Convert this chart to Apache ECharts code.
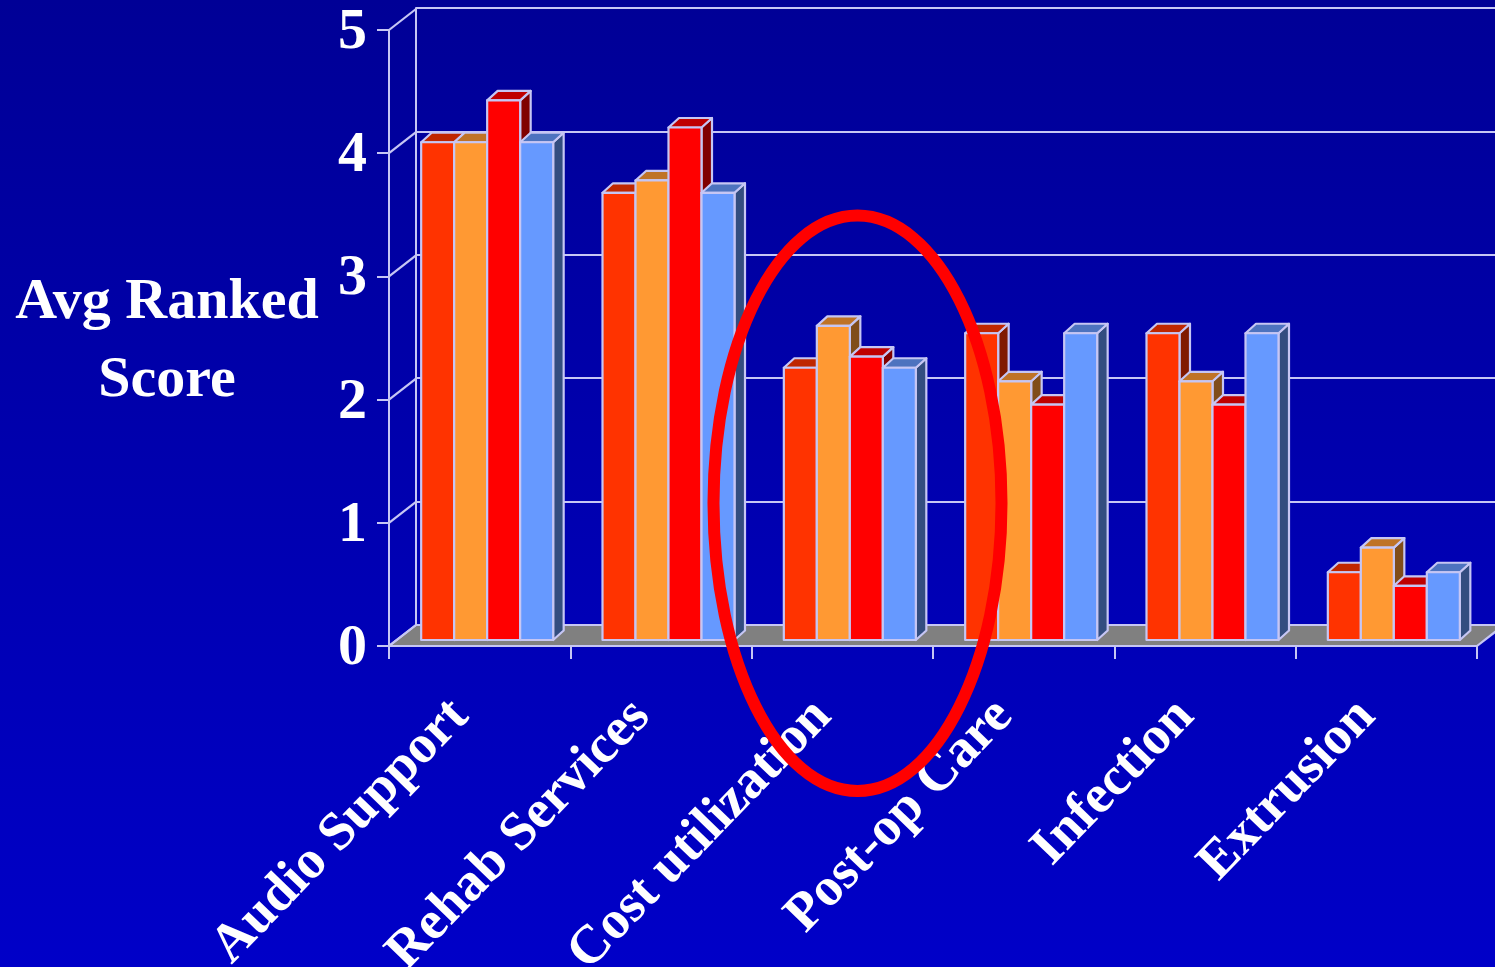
<!DOCTYPE html>
<html>
<head>
<meta charset="utf-8">
<style>html,body{margin:0;padding:0;background:#0000b0}#chart{width:1495px;height:967px}</style>
<script src="https://cdn.jsdelivr.net/npm/echarts@6/dist/echarts.min.js"></script>
</head>
<body>
<div id="chart"></div>
<script>
// Survey scores by category, one value per respondent group
const categories = ['Audio Support', 'Rehab Services', 'Cost utilization', 'Post-op Care', 'Infection', 'Extrusion'];
const groupA = [4.04, 3.63, 2.21, 2.49, 2.49, 0.55];
const groupB = [4.04, 3.73, 2.55, 2.10, 2.10, 0.75];
const groupC = [4.38, 4.16, 2.30, 1.91, 1.91, 0.44];
const groupD = [4.04, 3.63, 2.21, 2.49, 2.49, 0.55];
const yTicks = [0, 1, 2, 3, 4, 5];

const EDGE = '#c6c6f4';
const FONT = '"Liberation Serif", "Times New Roman", serif';

// Box extrusion used for the pseudo-3D look
const WALL_DX = 27, WALL_DY = -21;   // floor/wall depth
const BAR_X = 7.5, BAR_Y = -6;       // bars stand slightly behind the front axis
const BOX_DX = 10.5, BOX_DY = -9.5;  // depth of each bar
const BAR_W = 33;

const palette = [
  { front: '#ff3300', top: '#bf2600', side: '#801a00' },
  { front: '#ff9933', top: '#bf7326', side: '#804d1a' },
  { front: '#ff0000', top: '#bf0000', side: '#800000' },
  { front: '#6699ff', top: '#4d73bf', side: '#334d80' }
];

function poly(points, fill) {
  return { type: 'polygon', shape: { points }, style: { fill, stroke: EDGE, lineWidth: 2.2, lineJoin: 'round' } };
}

function barSeries(values, idx) {
  return {
    type: 'custom',
    xAxisIndex: 0,
    yAxisIndex: 0,
    z: 5,
    clip: false,
    data: values.map((v, i) => [i, v]),
    renderItem(params, api) {
      const top = api.coord([api.value(0), api.value(1)]);
      const base = api.coord([api.value(0), 0]);
      const x0 = top[0] + BAR_X + (idx - 2) * BAR_W;
      const x1 = x0 + BAR_W;
      const yt = top[1] + BAR_Y;
      const yb = base[1] + BAR_Y;
      const c = palette[idx];
      return {
        type: 'group',
        children: [
          poly([[x1, yt], [x1 + BOX_DX, yt + BOX_DY], [x1 + BOX_DX, yb + BOX_DY], [x1, yb]], c.side),
          poly([[x0, yt], [x0 + BOX_DX, yt + BOX_DY], [x1 + BOX_DX, yt + BOX_DY], [x1, yt]], c.top),
          poly([[x0, yt], [x1, yt], [x1, yb], [x0, yb]], c.front)
        ]
      };
    }
  };
}

// Grey floor between the front axis and the back wall
const floorSeries = {
  type: 'custom',
  xAxisIndex: 0,
  yAxisIndex: 0,
  z: 2,
  clip: false,
  data: [[0, 0]],
  renderItem(params, api) {
    const y = api.coord([0, api.value(1)])[1];
    const left = params.coordSys.x;
    const right = left + params.coordSys.width;
    return {
      type: 'polygon',
      shape: { points: [[left, y], [right, y], [right + WALL_DX, y + WALL_DY], [left + WALL_DX, y + WALL_DY]] },
      style: { fill: '#808080', stroke: EDGE, lineWidth: 2.2 }
    };
  }
};

// Diagonal grid lines on the left side wall
const sideWallSeries = {
  type: 'custom',
  xAxisIndex: 0,
  yAxisIndex: 0,
  z: 3,
  clip: false,
  data: yTicks.map(t => [0, t]),
  renderItem(params, api) {
    const y = api.coord([0, api.value(1)])[1];
    const x = params.coordSys.x;
    return {
      type: 'line',
      shape: { x1: x, y1: y, x2: x + WALL_DX, y2: y + WALL_DY },
      style: { stroke: EDGE, lineWidth: 2.2 }
    };
  }
};

const lineStyle = { color: EDGE, width: 2 };

const option = {
  animation: false,
  backgroundColor: {
    type: 'linear', x: 0, y: 0, x2: 0, y2: 1,
    colorStops: [{ offset: 0, color: '#000096' }, { offset: 1, color: '#0000c8' }]
  },
  // Axis title sits to the left of the tick labels, horizontally
  title: {
    text: 'Avg Ranked\nScore',
    left: 167, top: 264, padding: 0,
    textAlign: 'center',
    textStyle: { color: '#fff', fontFamily: FONT, fontWeight: 'bold', fontSize: 58, lineHeight: 78 }
  },
  grid: [
    { left: 389, top: 30, width: 1088, height: 616, outerBoundsMode: 'none' },
    { left: 416, top: 8, width: 1088, height: 617, outerBoundsMode: 'none' }
  ],
  xAxis: [
    {
      type: 'category', gridIndex: 0, data: categories, z: 4,
      axisLine: { lineStyle }, axisTick: { show: true, lineStyle, length: 13, alignWithLabel: false, interval: 0 },
      axisLabel: { color: '#fff', fontFamily: FONT, fontWeight: 'bold', fontSize: 54, rotate: 46, margin: 42, interval: 0, padding: [0, 28, 0, 0] }
    },
    { type: 'category', gridIndex: 1, data: categories, show: false }
  ],
  yAxis: [
    {
      type: 'value', gridIndex: 0, min: 0, max: 5, interval: 1, z: 4,
      axisLine: { show: true, lineStyle }, axisTick: { show: true, lineStyle, length: 12 },
      splitLine: { show: false },
      axisLabel: {
        margin: 22,
        formatter: '{d|{value}}',
        rich: { d: { color: '#fff', fontFamily: FONT, fontWeight: 'bold', fontSize: 58, lineHeight: 66, padding: [6, 0, 0, 0] } }
      }
    },
    {
      type: 'value', gridIndex: 1, min: 0, max: 5, interval: 1,
      axisLine: { show: true, lineStyle }, axisTick: { show: false }, axisLabel: { show: false },
      splitLine: { show: true, lineStyle }
    }
  ],
  series: [floorSeries, sideWallSeries, barSeries(groupA, 0), barSeries(groupB, 1), barSeries(groupC, 2), barSeries(groupD, 3)],
  graphic: [{
    type: 'ellipse', z: 100,
    shape: { cx: 857.5, cy: 503.3, rx: 144, ry: 287.7 },
    style: { fill: 'none', stroke: '#ff0000', lineWidth: 12 }
  }]
};

const chart = echarts.init(document.getElementById('chart'), null, { renderer: 'canvas' });
chart.setOption(option);
</script>
</body>
</html>
